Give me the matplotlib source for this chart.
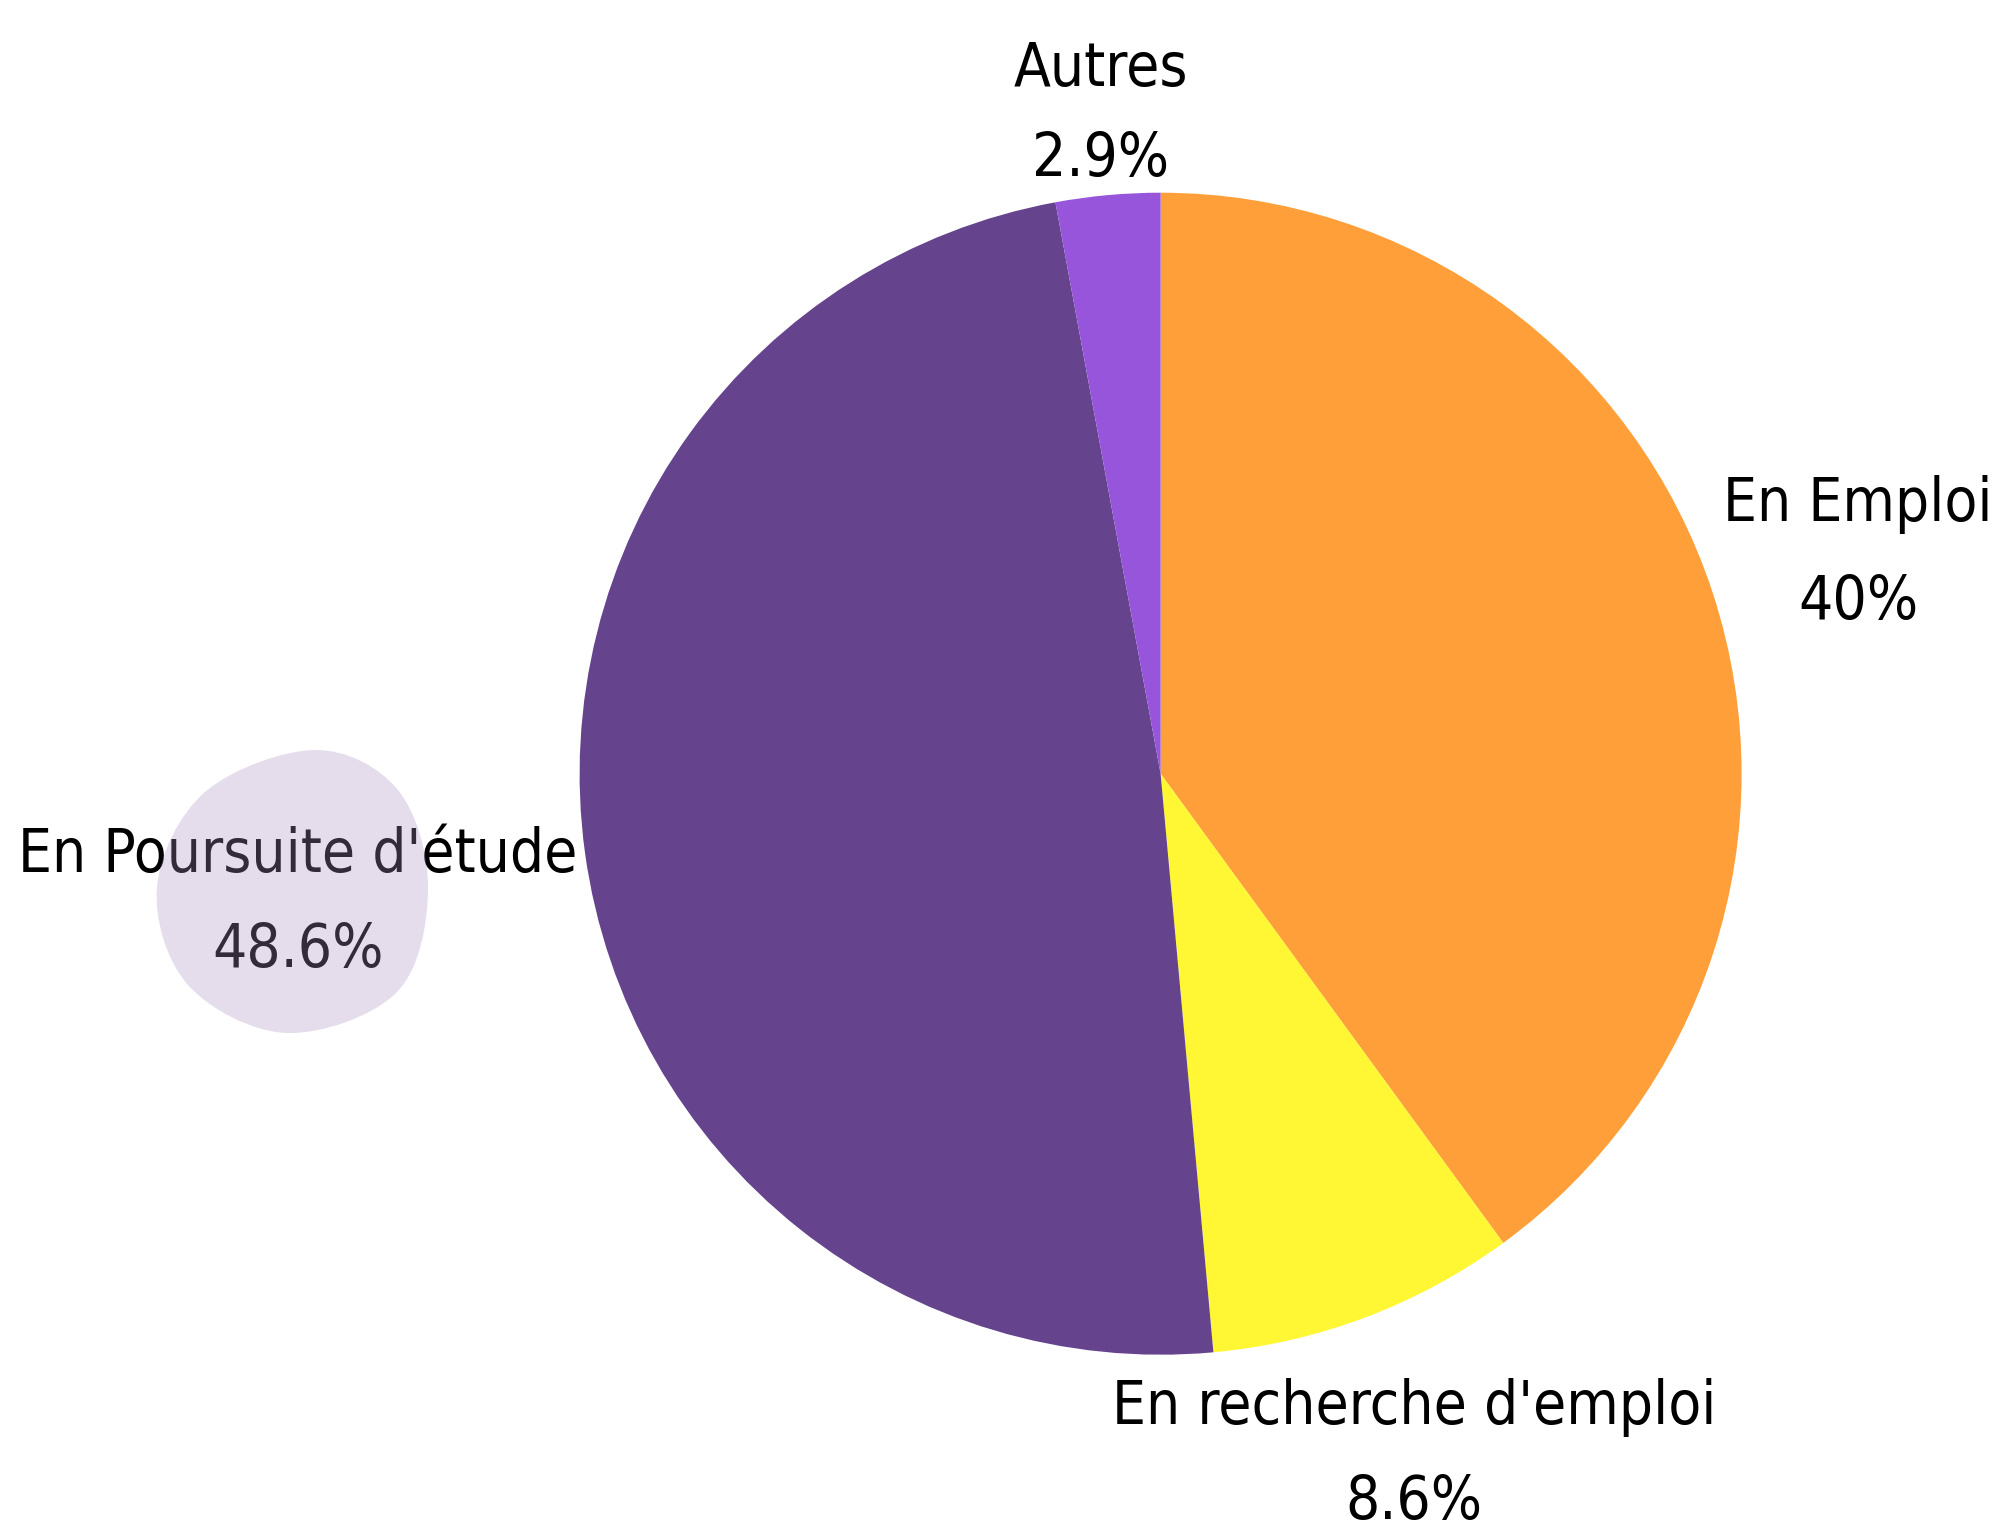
import matplotlib
matplotlib.use("Agg")
import matplotlib.pyplot as plt
from matplotlib import font_manager
from matplotlib.path import Path
from matplotlib.patches import PathPatch

# data
labels = ["En Emploi", "En recherche d'emploi", "En Poursuite d'étude", "Autres"]
values = [40, 8.6, 48.6, 2.9]
pct_text = ["40%", "8.6%", "48.6%", "2.9%"]
colors = ["#FF9F3A", "#FFF734", "#65438D", "#9655DB"]

W, H = 2002, 1529

# look for a condensed face among installed fonts, else plain DejaVu Sans
font = font_manager.FontProperties(family="DejaVu Sans")
cond = [f for f in font_manager.fontManager.ttflist
        if str(f.stretch) in ("condensed", "semi-condensed", "extra-condensed",
                              "ultra-condensed", "75", "62", "87", "50")
        and f.weight in (400, "normal", "regular", 500, "medium")
        and f.style == "normal"]
cond += [f for f in font_manager.fontManager.ttflist
         if ("Condensed" in f.name or "Narrow" in f.name) and f.style == "normal"]
if cond:
    font = font_manager.FontProperties(fname=cond[0].fname)

fig = plt.figure(figsize=(W / 100, H / 100), dpi=100)
fig.patch.set_facecolor("white")

# pie centre (1160, 774) px, radius 581 px
cx, cy, r = 1160.6, 773.7, 581
ax = fig.add_axes([(cx - r) / W, (H - cy - r) / H, 2 * r / W, 2 * r / H])
ax.pie(values, colors=colors, startangle=90, counterclock=False, radius=1,
       wedgeprops=dict(linewidth=0))
ax.set_xlim(-1, 1)
ax.set_ylim(-1, 1)
ax.axis("off")

# centre x, baseline of name, baseline of percent, width of name (px)
label_pos = [(1858, 521, 619, 254), (1414, 1424, 1519, 588),
             (298, 872, 967, 545), (1101, 86, 176, 167)]

fs0 = 50
renderer = fig.canvas.get_renderer()
texts = []
ratio = []
for name, pct, (x, b1, b2, w) in zip(labels, pct_text, label_pos):
    t1 = fig.text(x / W, 1 - b1 / H, name, ha="center", va="baseline",
                  fontproperties=font, fontsize=fs0, color="black")
    t2 = fig.text(x / W, 1 - b2 / H, pct, ha="center", va="baseline",
                  fontproperties=font, fontsize=fs0, color="black")
    texts += [t1, t2]
    ratio.append(w / t1.get_window_extent(renderer).width)
fs = fs0 * min(ratio) * 1.06
for t in texts:
    t.set_fontsize(fs)

# decorative blob over the left label (smooth closed curve through 8 points)
pts = [(315, 750), (398, 790), (428, 888), (397, 992),
       (287, 1033), (188, 985), (157, 887), (205, 792)]
n = len(pts)
verts = [pts[0]]
codes = [Path.MOVETO]
for i in range(n):
    p0, p1, p2, p3 = pts[i - 1], pts[i], pts[(i + 1) % n], pts[(i + 2) % n]
    c1 = (p1[0] + (p2[0] - p0[0]) / 6, p1[1] + (p2[1] - p0[1]) / 6)
    c2 = (p2[0] - (p3[0] - p1[0]) / 6, p2[1] - (p3[1] - p1[1]) / 6)
    verts += [c1, c2, p2]
    codes += [Path.CURVE4] * 3
verts = [(x, H - y) for x, y in verts]
blob = PathPatch(Path(verts, codes), facecolor="#AB90C3", alpha=0.3,
                 edgecolor="none", transform=None, zorder=10)
fig.add_artist(blob)

fig.savefig("out.png", dpi=100, facecolor="white")
